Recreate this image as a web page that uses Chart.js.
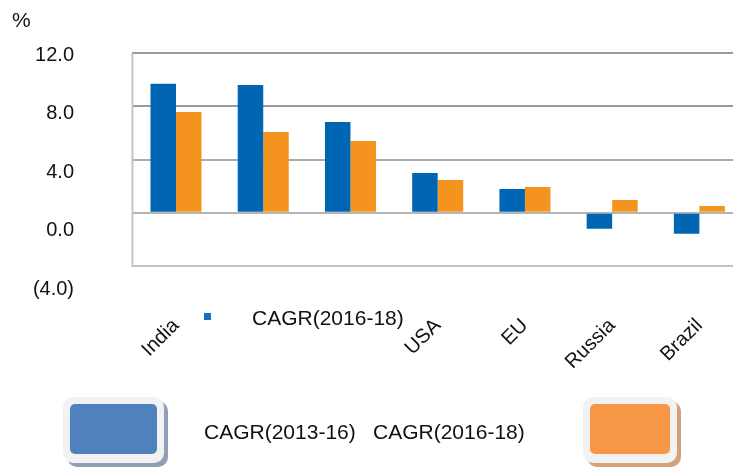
<!DOCTYPE html>
<html>
<head>
<meta charset="utf-8">
<script src="https://cdn.jsdelivr.net/npm/chart.js@4/dist/chart.umd.min.js"></script>
<style>
html, body { margin: 0; padding: 0; overflow: hidden; background: #fff; }
#wrap { position: relative; width: 733px; height: 468px; overflow: hidden; font-family: 'Liberation Sans', Arial, sans-serif; color: #111; }
#canvas { position: absolute; left: 0; top: 0; }
.txt { position: absolute; font-size: 21px; line-height: 22px; white-space: nowrap; }
.dot { position: absolute; width: 7px; height: 7px; }
.box { position: absolute; background: #f2f2f2; border-radius: 10px; }
.box div { position: absolute; left: 7px; top: 7px; right: 7px; bottom: 9px; border-radius: 5px; }
</style>
</head>
<body>
<div id="wrap">
  <canvas id="canvas" width="760" height="468"></canvas>
</div>
<script>
let categories = ['India', '', '', 'USA', 'EU', 'Russia', 'Brazil'];
let cagr1316 = [9.71, 9.62, 6.83, 2.99, 1.78, -1.20, -1.58];
let cagr1618 = [7.58, 6.08, 5.40, 2.46, 1.94, 0.96, 0.50];
let seriesNames = ['CAGR(2013-16)', 'CAGR(2016-18)'];
let yTicks = [-4, 0, 4, 8, 12];

let barColors = ['#0066b3', '#f5931f'];
let boxColors = ['#4f81bd', '#f79646'];
let shadowColors = ['#8fa0b6', '#d3a27c'];

Chart.defaults.font.family = "'Liberation Sans', Arial, sans-serif";
Chart.defaults.font.size = 20;
Chart.defaults.color = '#111';

// left frame line of the plot, from the top tick to the bottom tick
let frame = {
  id: 'frame',
  beforeDatasetsDraw(chart) {
    let x = chart.scales.x, y = chart.scales.y, c = chart.ctx;
    c.save();
    c.strokeStyle = '#c6c6c6';
    c.lineWidth = 2;
    c.beginPath();
    c.moveTo(x.left, y.getPixelForValue(yTicks[yTicks.length - 1]));
    c.lineTo(x.left, y.getPixelForValue(yTicks[0]) + 1);
    c.stroke();
    c.restore();
  }
};

let gridColor = v => {
  if (v >= 8) return '#9a9a9a';
  if (v === 4) return '#acacac';
  if (v === 0) return '#b4b4b4';
  return '#c4c4c4';
};

let ctx = document.getElementById('canvas').getContext('2d');
let myChart = new Chart(ctx, {
  type: 'bar',
  data: {
    labels: categories,
    datasets: [{
      label: seriesNames[0],
      data: cagr1316,
      backgroundColor: barColors[0]
    }, {
      label: seriesNames[1],
      data: cagr1618,
      backgroundColor: barColors[1]
    }]
  },
  options: {
    responsive: false,
    devicePixelRatio: 1,
    animation: false,
    layout: { padding: { left: 12, right: 17, top: 0, bottom: 96 } },
    datasets: { bar: { categoryPercentage: 0.585, barPercentage: 1 } },
    plugins: {
      legend: { display: false },
      tooltip: { enabled: false },
      title: {
        display: true,
        text: '%',
        align: 'start',
        color: '#111',
        font: { size: 21, weight: 'normal' },
        padding: { top: 8.5, bottom: 19.6 }
      }
    },
    scales: {
      x: {
        grid: { display: false },
        border: { display: false },
        ticks: { autoSkip: false, minRotation: 45, maxRotation: 45, padding: 14, color: '#111' },
        afterFit: s => { s.height = 80; }
      },
      y: {
        position: 'left',
        weight: 0,
        min: -5.97,
        max: 12,
        afterBuildTicks: s => { s.ticks = yTicks.map(v => ({ value: v })); },
        grid: { color: c => gridColor(c.tick.value), lineWidth: 2, drawTicks: false },
        border: { display: false },
        ticks: { display: false },
        afterFit: s => { s.width = 58.4; }
      },
      yl: {
        position: 'left',
        weight: 1,
        min: -4.205,
        max: 12.116,
        afterBuildTicks: s => { s.ticks = yTicks.map(v => ({ value: v })); },
        grid: { display: false, drawTicks: false },
        border: { display: false },
        ticks: {
          padding: 0,
          color: '#111',
          callback: v => v < 0 ? '(' + Math.abs(v).toFixed(1) + ')' : v.toFixed(1)
        },
        afterFit: s => { s.width = 62; }
      }
    }
  },
  plugins: [frame]
});

// legend pieces, built from the series names and colours
let wrap = document.getElementById('wrap');
function add(cls, css, text) {
  let el = document.createElement('div');
  el.className = cls;
  Object.assign(el.style, css);
  if (text) el.textContent = text;
  wrap.appendChild(el);
  return el;
}

add('dot', { left: '204px', top: '313px', background: '#1570c0' });
add('txt', { left: '252px', top: '307px' }, seriesNames[1]);

let boxes = [{ left: 63, width: 101 }, { left: 583, width: 94 }];
boxes.forEach((b, i) => {
  let el = add('box', {
    left: b.left + 'px', top: '397px', width: b.width + 'px', height: '66px',
    boxShadow: '4px 4px 0 ' + shadowColors[i]
  });
  let inner = document.createElement('div');
  inner.style.background = boxColors[i];
  el.appendChild(inner);
});
add('txt', { left: '204px', top: '421px' }, seriesNames[0]);
add('txt', { left: '373px', top: '421px' }, seriesNames[1]);
</script>
</body>
</html>
